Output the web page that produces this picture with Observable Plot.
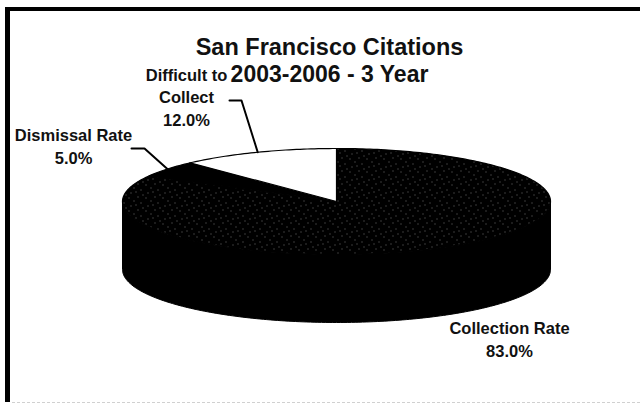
<!DOCTYPE html>
<html>
<head>
<meta charset="utf-8">
<script src="https://cdn.jsdelivr.net/npm/d3@7"></script>
<script src="https://cdn.jsdelivr.net/npm/@observablehq/plot@0.6"></script>
<style>
  body { margin: 0; background: #fff; }
  #chart { position: relative; width: 640px; height: 404px; overflow: hidden; background: #fff; }
  #chart svg { position: absolute; left: 0; top: 0; }
  #frame {
    position: absolute; left: 5px; top: 7px; width: 660px; height: 391px;
    border-top: 4px solid #000; border-left: 5px solid #000;
    pointer-events: none;
  }
  #floor {
    position: absolute; left: 12px; top: 402px; width: 628px; height: 0;
    border-top: 1px dashed #d0d0d0; pointer-events: none;
  }
</style>
</head>
<body>
<div id="chart"><div id="frame"></div><div id="floor"></div></div>
<script>
// Citation outcomes, 2003-2006 (share of citations, %)
const categories = ["Collection Rate", "Dismissal Rate", "Difficult to Collect"];
const shares = [83.0, 5.0, 12.0];
const labelText = ["Collection Rate\n83.0%", "Dismissal Rate\n5.0%", "Difficult to\nCollect\n12.0%"];
const titleText = "San Francisco Citations";
const subtitleText = "2003-2006 - 3 Year";

// Styling / layout
const sliceFills = ["url(#stipple)", "#000", "#fff"];
const pie = {cx: 336, cy: 201, rx: 214, ry: 53, depth: 68};
const labelAnchor = [[509, 356], [73, 163], [186, 125]];   // centre x, last baseline
const leaderStart = [null, [[131, 148], [144, 148]], [[229, 100], [241, 100]]];

const total = d3.sum(shares);
const rad = Math.PI / 180;
const rim = (deg, drop = 0) => ({
  x: pie.cx + pie.rx * Math.sin(deg * rad),
  y: pie.cy - pie.ry * Math.cos(deg * rad) + drop
});
const arcPts = (a0, a1, drop = 0) => {
  const n = Math.max(2, Math.ceil(Math.abs(a1 - a0)));
  return d3.range(n + 1).map(i => rim(a0 + (a1 - a0) * i / n, drop));
};

// slice angles, clockwise from 12 o'clock
let acc = 0;
const slices = categories.map((name, i) => {
  const a0 = acc / total * 360;
  acc += shares[i];
  const a1 = acc / total * 360;
  return {name, i, a0, a1, mid: (a0 + a1) / 2};
});

// top faces
const topPts = slices.flatMap(s =>
  [{x: pie.cx, y: pie.cy}, ...arcPts(s.a0, s.a1), {x: pie.cx, y: pie.cy}]
    .map(p => ({...p, slice: s.name, fill: sliceFills[s.i]})));

// visible front wall (angles 90..270)
const wallPts = slices.flatMap(s => {
  const lo = Math.max(s.a0, 90), hi = Math.min(s.a1, 270);
  if (hi <= lo) return [];
  return [...arcPts(lo, hi), ...arcPts(hi, lo, pie.depth)]
    .map(p => ({...p, slice: s.name}));
});

// leader lines ending on the rim at each slice's mid angle
const leaderPts = slices.flatMap(s => {
  const st = leaderStart[s.i];
  if (!st) return [];
  return [...st.map(([x, y]) => ({x, y})), rim(s.mid)].map(p => ({...p, slice: s.name}));
});

const labels = slices.map(s => ({
  text: labelText[s.i], x: labelAnchor[s.i][0], y: labelAnchor[s.i][1]
}));

const font = "'Liberation Sans', Arial, Helvetica, sans-serif";

const chart = Plot.plot({
  width: 640,
  height: 404,
  margin: 0,
  style: {fontFamily: font, background: "transparent", overflow: "visible"},
  x: {domain: [0, 640], range: [0, 640], axis: null},
  y: {domain: [0, 404], range: [0, 404], axis: null},
  color: {type: "identity"},
  marks: [
    Plot.line(wallPts, {x: "x", y: "y", z: "slice", fill: "#000", stroke: "#000", strokeWidth: 1, curve: "linear-closed"}),
    Plot.line(topPts, {x: "x", y: "y", z: "slice", fill: "fill", stroke: "#000", strokeWidth: 1.2, curve: "linear-closed"}),
    Plot.line(leaderPts, {x: "x", y: "y", z: "slice", stroke: "#000", strokeWidth: 2}),
    Plot.text(labels, {x: "x", y: "y", text: "text", fontSize: 16.5, fontWeight: "bold", lineAnchor: "bottom", lineHeight: 1.34, fill: "#111"}),
    Plot.text([subtitleText], {x: () => 329, y: () => 81, text: d => d, fontSize: 23, fontWeight: "bold", lineAnchor: "bottom", fill: "#111"}),
    Plot.text([titleText], {x: () => 329, y: () => 54, text: d => d, fontSize: 23.5, fontWeight: "bold", lineAnchor: "bottom", fill: "#111"})
  ]
});

// sparse speckled texture for the collection slice
const svg = d3.select(chart);
const pat = svg.insert("defs", ":first-child").append("pattern")
  .attr("id", "stipple").attr("patternUnits", "userSpaceOnUse")
  .attr("width", 17).attr("height", 13);
pat.append("rect").attr("width", 17).attr("height", 13).attr("fill", "#000");
[[1, 1], [9, 2], [14, 5], [4, 7], [11, 10], [6, 12], [16, 9]].forEach(([x, y]) =>
  pat.append("rect").attr("x", x).attr("y", y).attr("width", 1).attr("height", 1).attr("fill", "#6e6e6e"));

document.getElementById("chart").prepend(chart);
</script>
</body>
</html>
